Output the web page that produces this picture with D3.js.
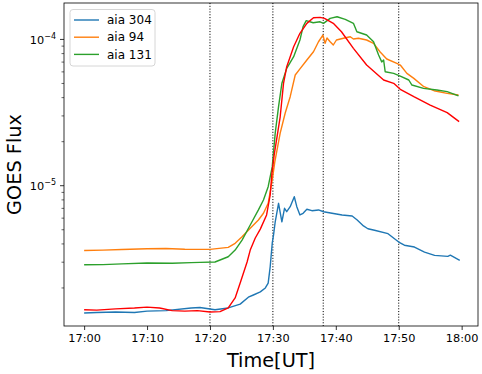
<!DOCTYPE html>
<html>
<head>
<meta charset="utf-8">
<script src="https://cdn.jsdelivr.net/npm/d3@7"></script>
<style>
  body { margin: 0; background: #fff; }
  text { font-family: "DejaVu Sans", sans-serif; fill: #000; }
</style>
</head>
<body>
<svg id="chart"></svg>
<script>
// minutes after 17:00, flux values
const t304 = [0, 2, 5, 8, 10, 13, 17, 18.4, 20.8, 22.9, 24.8, 26.1, 26.9, 28.0, 28.8, 29.25, 29.57, 29.9, 30.1, 30.37, 30.9, 31.43, 31.85, 32.2, 32.75, 33.4, 33.8, 34.3, 34.8, 35.4, 36.2, 37.25, 38.05, 39.4, 41.0, 42.6, 43.4, 44.4, 45.1, 46.15, 48.3, 50.0, 50.9, 52.5, 54.1, 55.7, 57.8, 58.2, 59.7];
const aia304 = [1.35e-6, 1.36e-6, 1.37e-6, 1.36e-6, 1.39e-6, 1.40e-6, 1.46e-6, 1.47e-6, 1.42e-6, 1.46e-6, 1.55e-6, 1.73e-6, 1.79e-6, 1.88e-6, 2.00e-6, 2.16e-6, 2.79e-6, 4.06e-6, 4.6e-6, 5.67e-6, 7.58e-6, 5.67e-6, 7.01e-6, 6.64e-6, 7.19e-6, 8.41e-6, 7.19e-6, 6.31e-6, 6.48e-6, 6.90e-6, 6.75e-6, 6.83e-6, 6.64e-6, 6.48e-6, 6.31e-6, 6.21e-6, 5.83e-6, 5.31e-6, 5.08e-6, 4.96e-6, 4.70e-6, 4.12e-6, 3.92e-6, 3.81e-6, 3.52e-6, 3.34e-6, 3.29e-6, 3.35e-6, 3.09e-6];

const t94 = [0, 3, 6, 10, 13, 16, 18.4, 20, 22.9, 24.0, 25.1, 26.4, 27.7, 28.5, 29.25, 29.9, 30.3, 31.16, 31.96, 32.75, 33.55, 34.3, 35.4, 36.45, 37.25, 37.95, 38.3, 38.6, 39.1, 39.6, 40.1, 41.2, 42.3, 42.8, 43.6, 44.9, 46.0, 47.05, 48.1, 49.7, 50.25, 51.3, 52.4, 54.0, 55.6, 57.7, 59.5];
const aia94 = [3.61e-6, 3.63e-6, 3.66e-6, 3.71e-6, 3.72e-6, 3.68e-6, 3.67e-6, 3.67e-6, 3.79e-6, 4.04e-6, 4.48e-6, 5.12e-6, 5.83e-6, 6.48e-6, 7.58e-6, 1.094e-5, 1.45e-5, 2.29e-5, 3.14e-5, 4.06e-5, 5.71e-5, 6.29e-5, 7.23e-5, 8.24e-5, 9.64e-5, 1.072e-4, 9.40e-5, 1.023e-4, 9.64e-5, 9.16e-5, 9.91e-5, 1.018e-4, 1.043e-4, 1.006e-4, 1.018e-4, 9.91e-5, 9.40e-5, 8.20e-5, 7.35e-5, 6.87e-5, 6.68e-5, 5.86e-5, 5.42e-5, 4.75e-5, 4.46e-5, 4.28e-5, 4.17e-5];

const t131 = [0, 3, 6, 10, 14, 17, 18.4, 20.8, 22.9, 24.0, 25.1, 26.4, 27.7, 28.5, 29.25, 29.9, 30.37, 30.9, 31.43, 32.2, 33.3, 34.3, 34.8, 35.3, 36.4, 37.5, 38.05, 39.1, 40.2, 41.5, 42.8, 43.35, 44.9, 46.0, 46.8, 47.3, 47.6, 47.85, 49.2, 50.25, 51.6, 52.1, 53.95, 56.07, 57.7, 59.5];
const aia131 = [2.88e-6, 2.89e-6, 2.92e-6, 2.96e-6, 2.95e-6, 2.98e-6, 2.99e-6, 3.01e-6, 3.27e-6, 3.63e-6, 4.25e-6, 5.39e-6, 6.83e-6, 7.98e-6, 9.85e-6, 1.35e-5, 2.29e-5, 3.47e-5, 5.01e-5, 6.34e-5, 7.62e-5, 9.91e-5, 1.222e-4, 1.343e-4, 1.30e-4, 1.32e-4, 1.288e-4, 1.393e-4, 1.428e-4, 1.371e-4, 1.288e-4, 1.129e-4, 1.072e-4, 9.64e-5, 7.82e-5, 7.02e-5, 7.23e-5, 6.01e-5, 5.86e-5, 5.62e-5, 5.28e-5, 4.88e-5, 4.63e-5, 4.51e-5, 4.40e-5, 4.11e-5];

const tGoes = [0, 2, 5, 8, 10, 12, 14, 16, 18, 20, 21.6, 22.9, 24.0, 24.8, 25.9, 26.4, 27.2, 28.0, 29.0, 29.57, 29.85, 30.2, 31.16, 31.69, 32.2, 33.3, 34.3, 35.4, 36.45, 37.5, 38.2, 39.6, 40.9, 42.8, 44.9, 47.6, 49.2, 50.25, 52.4, 55.0, 57.7, 59.6];
const goes = [1.42e-6, 1.41e-6, 1.44e-6, 1.46e-6, 1.48e-6, 1.46e-6, 1.40e-6, 1.39e-6, 1.40e-6, 1.37e-6, 1.377e-6, 1.46e-6, 1.71e-6, 2.16e-6, 3.01e-6, 3.63e-6, 4.39e-6, 5.05e-6, 6.31e-6, 8.64e-6, 1.22e-5, 1.62e-5, 2.96e-5, 5.01e-5, 6.51e-5, 8.91e-5, 1.101e-4, 1.288e-4, 1.405e-4, 1.416e-4, 1.393e-4, 1.288e-4, 1.129e-4, 8.69e-5, 6.68e-5, 5.28e-5, 5.01e-5, 4.56e-5, 4.06e-5, 3.56e-5, 3.16e-5, 2.74e-5];

const eventLines = [20, 30, 38, 50];
const seriesNames = ['aia 304', 'aia 94', 'aia 131'];
const seriesColors = ['#1f77b4', '#ff7f0e', '#2ca02c'];

const width = 482, height = 374;
const frame = { left: 64, right: 478, top: 3, bottom: 326 };
const t0 = new Date(2000, 0, 1, 17, 0, 0);
const toDate = m => new Date(t0.getTime() + m * 60000);

const svg = d3.select('#chart').attr('width', width).attr('height', height);

const x = d3.scaleTime()
    .domain([toDate(-3.2), toDate(62.6)])
    .range([frame.left, frame.right]);
const y = d3.scaleLog()
    .domain([Math.pow(10, -5.959), Math.pow(10, -3.751)])
    .range([frame.bottom, frame.top]);

// x axis
const xAxis = d3.axisBottom(x)
    .tickValues(d3.range(0, 61, 10).map(toDate))
    .tickFormat(d3.timeFormat('%H:%M'))
    .tickSize(4).tickPadding(3.5);
const gx = svg.append('g')
    .attr('transform', `translate(0,${frame.bottom})`)
    .call(xAxis);
gx.select('.domain').remove();
gx.selectAll('line').attr('stroke', '#000').attr('stroke-width', 0.8);
gx.selectAll('text').attr('font-size', 11.3).attr('font-family', 'DejaVu Sans').attr('dy', '0.71em');

// y axis, majors and minors by hand from the scale
const [ylo, yhi] = y.domain();
const minors = [];
for (let e = -7; e <= -3; e++) {
    for (let k = 2; k <= 9; k++) {
        const v = k * Math.pow(10, e);
        if (v >= ylo && v <= yhi) minors.push(v);
    }
}
const majors = [1e-5, 1e-4];
const gy = svg.append('g');
gy.selectAll('.minor').data(minors).enter().append('line')
    .attr('x1', frame.left - 2.5).attr('x2', frame.left)
    .attr('y1', d => y(d)).attr('y2', d => y(d))
    .attr('stroke', '#000').attr('stroke-width', 0.6);
gy.selectAll('.major').data(majors).enter().append('line')
    .attr('x1', frame.left - 4).attr('x2', frame.left)
    .attr('y1', d => y(d)).attr('y2', d => y(d))
    .attr('stroke', '#000').attr('stroke-width', 0.8);
const lab = gy.selectAll('.lab').data(majors).enter().append('text')
    .attr('x', frame.left - 8)
    .attr('y', d => y(d) + 4.2)
    .attr('text-anchor', 'end')
    .attr('font-size', 11.3);
lab.append('tspan').text('10');
lab.append('tspan').attr('dy', -4.8).attr('font-size', 8)
    .text(d => '\u2212' + Math.round(-Math.log10(d)));

// event lines
svg.selectAll('.ev').data(eventLines).enter().append('line')
    .attr('x1', d => x(toDate(d))).attr('x2', d => x(toDate(d)))
    .attr('y1', frame.top).attr('y2', frame.bottom)
    .attr('stroke', '#000').attr('stroke-width', 1)
    .attr('stroke-dasharray', '1.1,1.7');

// curves
const line = d3.line()
    .x(d => x(toDate(d[0])))
    .y(d => y(d[1]));
const series = [
    { t: t304, v: aia304, color: seriesColors[0] },
    { t: t94, v: aia94, color: seriesColors[1] },
    { t: t131, v: aia131, color: seriesColors[2] },
    { t: tGoes, v: goes, color: '#ff0000' }
];
svg.append('defs').append('clipPath').attr('id', 'clip')
    .append('rect')
    .attr('x', frame.left).attr('y', frame.top)
    .attr('width', frame.right - frame.left).attr('height', frame.bottom - frame.top);
svg.append('g').attr('clip-path', 'url(#clip)')
    .selectAll('path').data(series).enter().append('path')
    .attr('d', s => line(s.t.map((t, i) => [t, s.v[i]])))
    .attr('fill', 'none')
    .attr('stroke', s => s.color)
    .attr('stroke-width', 1.4)
    .attr('stroke-linejoin', 'round');

// frame
svg.append('rect')
    .attr('x', frame.left).attr('y', frame.top)
    .attr('width', frame.right - frame.left).attr('height', frame.bottom - frame.top)
    .attr('fill', 'none').attr('stroke', '#000').attr('stroke-width', 0.8);

// legend
const lg = svg.append('g').attr('transform', 'translate(70,9.5)');
lg.append('rect')
    .attr('width', 85).attr('height', 56.5).attr('rx', 3)
    .attr('fill', '#fff').attr('fill-opacity', 0.8)
    .attr('stroke', '#cccccc').attr('stroke-width', 0.8);
const item = lg.selectAll('.item').data(seriesNames).enter().append('g')
    .attr('transform', (d, i) => `translate(0,${10.5 + i * 17.2})`);
item.append('line')
    .attr('x1', 4).attr('x2', 29)
    .attr('stroke', (d, i) => seriesColors[i]).attr('stroke-width', 1.4);
item.append('text')
    .attr('x', 37).attr('y', 4.2)
    .attr('font-size', 12)
    .text(d => d);

// axis labels
svg.append('text')
    .attr('x', (frame.left + frame.right) / 2).attr('y', 367)
    .attr('text-anchor', 'middle').attr('font-size', 19.3)
    .text('Time[UT]');
svg.append('text')
    .attr('transform', `translate(20.5,${(frame.top + frame.bottom) / 2}) rotate(-90)`)
    .attr('text-anchor', 'middle').attr('font-size', 19.3)
    .text('GOES Flux');
</script>
</body>
</html>
